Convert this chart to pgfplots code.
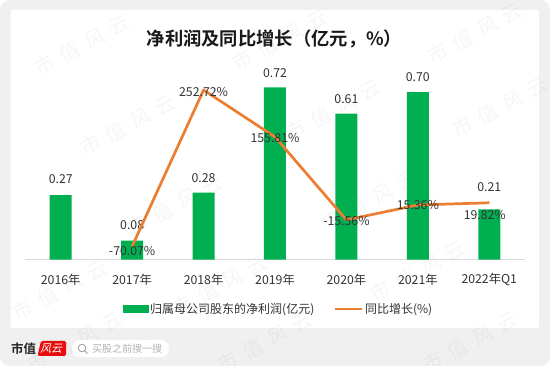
\documentclass[border=0pt]{standalone}
\usepackage{fontspec}
\usepackage{pgfplots}
\usepackage{pgfplotstable}
\pgfplotsset{compat=1.18}
\setmainfont{Noto Sans CJK SC}[BoldFont={Noto Sans CJK SC Bold}]
\newfontfamily\wmfont[LetterSpace=40]{Noto Sans CJK SC}
\definecolor{barg}{HTML}{00B050}
\definecolor{lineo}{HTML}{ED7D31}
\definecolor{txt}{HTML}{333333}
\definecolor{bgg}{HTML}{F0F0F0}
\pgfplotstableread{
x y lab dx dy
0 0.27 0.27 0 16
1 0.08 0.08 0 15.5
2 0.28 0.28 0 15
3 0.72 0.72 0 14.5
4 0.61 0.61 0 15
5 0.70 0.70 0 15
6 0.21 0.21 0 22.4
}\bardata
\pgfplotstableread{
x y lab dx dy
1 -70.07 -70.07 0 -5
2 252.72 252.72 0 -2
3 155.81 155.81 0 -1
4 -15.56 -15.56 0 -1
5 15.36 15.36 0 0
6 19.82 19.82 -4.5 -12.3
}\linedata
\newcommand{\wm}[2]{\node[rotate=28,opacity=0.035,font=\wmfont\fontsize{20}{20}\selectfont,inner sep=0pt] at (#1,366-#2) {市值风云};}
\begin{document}
\begin{tikzpicture}[x=1pt,y=1pt]
\clip (0,0) rectangle (550,366);
\fill[white] (0,0) rectangle (550,366);
\fill[bgg,rounded corners=10pt] (0,0) rectangle (550,366);
\fill[white,rounded corners=2pt] (10.5,38) rectangle (539,356);
% watermarks
\foreach \p/\q in {82/45,280/40,475/33,128/125,333/110,500/107,175/205,370/200,220/285,418/271,60/290,75/342,265/342,470/342}{
  \wm{\p}{\q}
}
\node[font=\bfseries\fontsize{18.3}{20}\selectfont,text=black!90] at (274.5,327.5) {净利润及同比增长（亿元，\%）};
\begin{axis}[
  at={(25pt,106.3pt)},anchor=south west,
  width=500pt,height=191.5pt,scale only axis,
  xmin=-0.5,xmax=6.5,ymin=0,ymax=0.8,
  axis y line=none,
  axis x line*=bottom,
  x axis line style={draw=black!15,line width=0.8pt,-},
  xtick=data,
  xticklabels={2016年,2017年,2018年,2019年,2020年,2021年,2022年Q1},
  major tick length=0pt,
  xticklabel style={font=\fontsize{12.3}{14}\selectfont,text=txt,yshift=-20pt,inner sep=0pt,anchor=center},
  clip=false,
]
\addplot[ybar,bar width=22pt,fill=barg,draw=none,bar shift=0pt,
  point meta=explicit symbolic,
  visualization depends on={\thisrow{dx} \as \dxv},
  visualization depends on={\thisrow{dy} \as \dyv},
  nodes near coords={\pgfplotspointmeta},
  every node near coord/.append style={anchor=center,xshift=\dxv pt,yshift=\dyv pt,
     font=\fontsize{12.3}{14}\selectfont,text=txt,inner sep=0pt},
] table[x=x,y=y,meta=lab] {\bardata};
\end{axis}
\begin{axis}[
  at={(25pt,106.3pt)},anchor=south west,
  width=500pt,height=191.5pt,scale only axis,
  xmin=-0.5,xmax=6.5,ymin=-97.7,ymax=297.8,
  hide axis,clip=false,
  legend columns=2,
  legend style={at={(0.507,-0.257)},anchor=center,draw=none,fill=none,
    font=\fontsize{12}{14}\selectfont,text=txt,inner sep=0pt,
    /tikz/every even column/.append style={column sep=17pt}},
  legend cell align=left,
]
\addlegendimage{legend image code/.code={\fill[barg] (0pt,-3.5pt) rectangle (25pt,3.5pt);}}
\addlegendentry{归属母公司股东的净利润(亿元)}
\addplot[lineo,line width=2.7pt,line join=round,
  legend image code/.code={\draw[lineo,line width=2.7pt] (0pt,0pt)--(27pt,0pt);},
  point meta=explicit symbolic,
  visualization depends on={\thisrow{dx} \as \dxv},
  visualization depends on={\thisrow{dy} \as \dyv},
  nodes near coords={\pgfplotspointmeta\%},
  every node near coord/.append style={anchor=center,xshift=\dxv pt,yshift=\dyv pt,
     font=\fontsize{12.3}{14}\selectfont,text=txt,inner sep=0pt},
] table[x=x,y=y,meta=lab] {\linedata};
\addlegendentry{同比增长(\%)}
\end{axis}
% footer
\node[font=\bfseries\fontsize{12.5}{12}\selectfont,anchor=west,inner sep=0pt,text=black!85] at (11,17.5) {市值};
\fill[red!90!black!95,rounded corners=1.5pt] (37.5,10) -- (41,25) -- (66,25) -- (66,10) -- cycle;
\node[font=\fontsize{11}{11}\selectfont,text=white,inner sep=0pt,xslant=0.25] at (52,17.5) {风云};
\fill[white,rounded corners=8pt] (72,9) rectangle (169,26);
\draw[black!40,line width=0.8pt] (82,18) circle (3.8pt);
\draw[black!40,line width=0.8pt] (84.8,15.2) -- (87.5,12.5);
\node[font=\fontsize{10}{10}\selectfont,text=black!30,anchor=west,inner sep=0pt] at (92,17.5) {买股之前搜一搜};
\end{tikzpicture}
\end{document}
